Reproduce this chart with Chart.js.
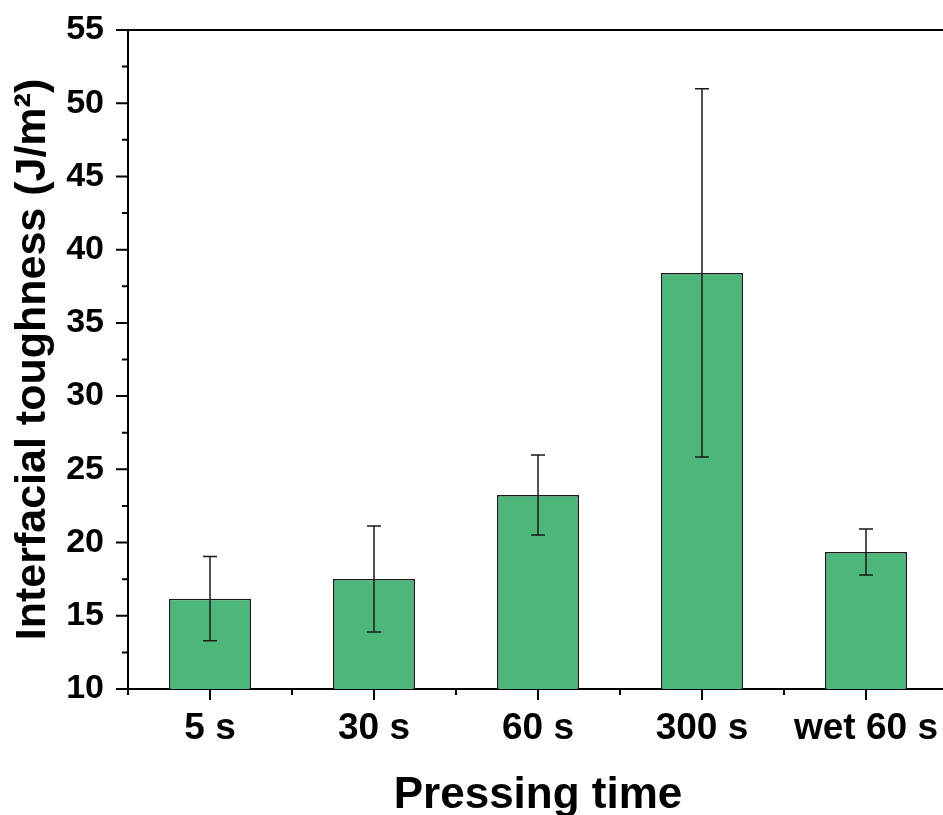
<!DOCTYPE html>
<html>
<head>
<meta charset="utf-8">
<style>
  html, body { margin: 0; padding: 0; background: #fff; overflow: hidden; }
  canvas { display: block; }
</style>
</head>
<body>
<canvas id="toughChart" width="948" height="815"></canvas>
<script src="https://cdn.jsdelivr.net/npm/chart.js"></script>
<script>
const categories = ['5 s', '30 s', '60 s', '300 s', 'wet 60 s'];
const toughness = [16.17, 17.51, 23.25, 38.41, 19.36];
const toughErr = [2.87, 3.62, 2.73, 12.57, 1.57];
const yTicks = [10, 15, 20, 25, 30, 35, 40, 45, 50, 55];
const yMinor = [12.5, 17.5, 22.5, 27.5, 32.5, 37.5, 42.5, 47.5, 52.5];

const FONT = 'Arial, "Liberation Sans", sans-serif';

// error bars + outward tick marks (major / minor)
const extras = {
  id: 'extras',
  afterDatasetsDraw(chart) {
    const ctx = chart.ctx;
    const y = chart.scales.y;
    const meta = chart.getDatasetMeta(0);
    ctx.save();
    ctx.strokeStyle = '#1a1a1a';
    ctx.lineWidth = 1.5;
    meta.data.forEach((bar, i) => {
      const hi = y.getPixelForValue(toughness[i] + toughErr[i]);
      const lo = y.getPixelForValue(toughness[i] - toughErr[i]);
      ctx.beginPath();
      ctx.moveTo(bar.x, hi); ctx.lineTo(bar.x, lo);
      ctx.moveTo(bar.x - 7, hi); ctx.lineTo(bar.x + 7, hi);
      ctx.moveTo(bar.x - 7, lo); ctx.lineTo(bar.x + 7, lo);
      ctx.stroke();
    });
    ctx.restore();
  },
  afterDraw(chart) {
    const ctx = chart.ctx;
    const {left, right, top, bottom} = chart.chartArea;
    const x = chart.scales.x;
    const y = chart.scales.y;
    ctx.save();
    ctx.strokeStyle = '#000';
    ctx.lineWidth = 2;
    ctx.beginPath();
    // top frame line
    ctx.moveTo(left, top); ctx.lineTo(right, top);
    yTicks.forEach(v => {
      const p = y.getPixelForValue(v);
      ctx.moveTo(left - 12, p); ctx.lineTo(left, p);
    });
    yMinor.forEach(v => {
      const p = y.getPixelForValue(v);
      ctx.moveTo(left - 6, p); ctx.lineTo(left, p);
    });
    categories.forEach((c, i) => {
      const p = x.getPixelForValue(i);
      ctx.moveTo(p, bottom); ctx.lineTo(p, bottom + 11);
    });
    for (let i = 0; i <= categories.length; i++) {
      const p = x.getPixelForValue(i - 0.5);
      ctx.moveTo(p, bottom); ctx.lineTo(p, bottom + 6);
    }
    ctx.stroke();
    ctx.restore();
  }
};

// keep label overhang from shrinking the plot area
function noPad(s) {
  s.paddingTop = 0; s.paddingBottom = 0;
  s.paddingLeft = 0; s.paddingRight = 0;
}

new Chart(document.getElementById('toughChart'), {
  type: 'bar',
  data: {
    labels: categories,
    datasets: [{
      data: toughness,
      backgroundColor: '#4cb67b',
      borderColor: '#1a1a1a',
      borderWidth: 1.5,
      categoryPercentage: 1,
      barPercentage: 0.5
    }]
  },
  options: {
    responsive: false,
    animation: false,
    layout: { padding: { top: 30, right: 0, left: 0, bottom: 0 } },
    plugins: { legend: { display: false }, tooltip: { enabled: false } },
    scales: {
      x: {
        afterFit: s => { s.height = 126; noPad(s); },
        grid: { display: false, drawTicks: false },
        border: { display: true, color: '#000', width: 2 },
        ticks: { color: '#000', padding: 21, font: { family: FONT, size: 37, weight: 'bold', lineHeight: 1 } },
        title: {
          display: true, text: 'Pressing time', color: '#000',
          padding: { top: 0, bottom: -3 },
          font: { family: FONT, size: 44, weight: 'bold', lineHeight: 1 }
        }
      },
      y: {
        min: 10, max: 55,
        afterFit: s => { s.width = 128; noPad(s); },
        afterBuildTicks: s => { s.ticks = yTicks.map(v => ({ value: v })); },
        grid: { display: false, drawTicks: false },
        border: { display: true, color: '#000', width: 2 },
        ticks: { color: '#000', padding: 24, font: { family: FONT, size: 34, weight: 'bold', lineHeight: 1 } },
        title: {
          display: true, text: 'Interfacial toughness (J/m²)', color: '#000',
          padding: { top: 12, bottom: 0 },
          font: { family: FONT, size: 43, weight: 'bold', lineHeight: 1 }
        }
      }
    }
  },
  plugins: [extras]
});
</script>
</body>
</html>
